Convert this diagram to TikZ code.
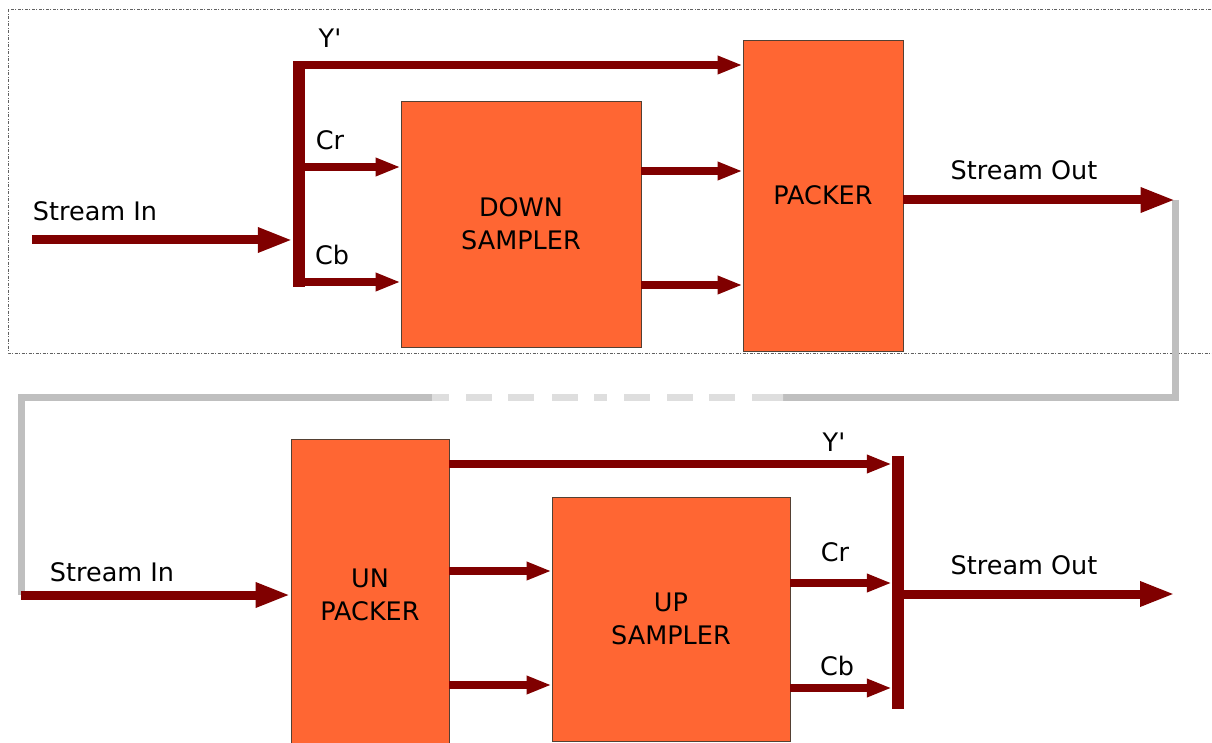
\documentclass[tikz,border=0pt]{standalone}
\usepackage{fontspec}
\setmainfont{DejaVu Sans}
\usetikzlibrary{arrows.meta}
\definecolor{mywire}{rgb}{0.5,0,0}
\definecolor{myblock}{rgb}{1,0.4,0.2}
\definecolor{myedge}{rgb}{0.33,0.25,0.2}
\definecolor{mylink}{rgb}{0.75,0.75,0.75}
\definecolor{mylinkdash}{rgb}{0.87,0.87,0.87}
\definecolor{myframe}{rgb}{0.38,0.38,0.38}

\begin{document}
\begin{tikzpicture}[x=1pt,y=-1pt,
  block/.style={draw=myedge,line width=0.9pt,fill=myblock,inner sep=0pt,align=center,font=\fontsize{25.5}{33}\selectfont},
  lbl/.style={inner sep=0pt,font=\fontsize{25.5}{30}\selectfont},
  bus/.style={fill=mywire,inner sep=0pt,minimum width=12pt},
  wire/.style={mywire,line width=8pt,-{Triangle[length=25pt,width=17pt]}},
  stream/.style={mywire,line width=9pt,-{Triangle[length=35pt,width=23pt]}}]
  \useasboundingbox (0,0) rectangle (1212,743);
  \draw[myframe,line width=1pt,dash pattern=on 3pt off 1.5pt on 1pt off 1.5pt] (8,9.5) rectangle (1218,353);
  % encoder
  \node[block,minimum width=240pt,minimum height=246pt] (down) at (521,224) {DOWN\\SAMPLER};
  \node[block,minimum width=160pt,minimum height=311pt] (packer) at (823,195.5) {PACKER};
  \node[bus,minimum height=226pt] (split) at (299,174) {};
  \coordinate (in1) at (32,240);
  \coordinate (yp1) at (0,65);
  \coordinate (cr1) at (0,167);
  \coordinate (cb1) at (0,282);
  \coordinate (d1) at (0,171);
  \coordinate (d2) at (0,285);
  \coordinate (so1) at (1175.5,200);
  \draw[stream] (in1) -- (split.west |- in1);
  \draw[wire] (split.east |- yp1) -- (packer.west |- yp1);
  \draw[wire] (split.east |- cr1) -- (down.west |- cr1);
  \draw[wire] (split.east |- cb1) -- (down.west |- cb1);
  \draw[wire] (down.east |- d1) -- (packer.west |- d1);
  \draw[wire] (down.east |- d2) -- (packer.west |- d2);
  \node[lbl] (inlbl1) at (95,211) {Stream In};
  \node[lbl] (ylbl1) at (330,38) {Y\textquotesingle};
  \node[lbl] (crlbl1) at (330,140) {Cr};
  \node[lbl] (cblbl1) at (332,255) {Cb};
  \node[lbl] (outlbl1) at (1024,170) {Stream Out};
  % link
  \coordinate (c1) at (1175.5,397);
  \coordinate (g1) at (783,397);
  \coordinate (g2) at (432,397);
  \coordinate (c2) at (21,397);
  \coordinate (in2) at (21,595);
  \draw[mylink,line width=7pt] (so1) -- (c1) -- (g1);
  \draw[mylinkdash,line width=7pt,dash pattern=on 17pt off 17pt on 26pt off 16pt on 26pt off 18pt on 26pt off 16pt on 13pt off 17pt on 26pt off 17pt on 26pt off 16pt on 26pt off 17pt on 31pt off 0pt] (g2) -- (g1);
  \draw[mylink,line width=7pt] (g2) -- (c2) -- (in2);
  \draw[stream] (packer.east |- so1) -- (so1);
  % decoder
  \node[block,minimum width=158pt,minimum height=312pt] (unpacker) at (370,595) {UN\\PACKER};
  \node[block,minimum width=238pt,minimum height=244pt] (up) at (671,619) {UP\\SAMPLER};
  \node[bus,minimum height=253pt] (merge) at (898,582.5) {};
  \coordinate (yp2) at (0,464);
  \coordinate (u1) at (0,571);
  \coordinate (u2) at (0,685);
  \coordinate (cr2) at (0,583);
  \coordinate (cb2) at (0,688);
  \coordinate (so2) at (1175,594);
  \draw[stream] (in2) -- (unpacker.west |- in2);
  \draw[wire] (unpacker.east |- yp2) -- (merge.west |- yp2);
  \draw[wire] (unpacker.east |- u1) -- (up.west |- u1);
  \draw[wire] (unpacker.east |- u2) -- (up.west |- u2);
  \draw[wire] (up.east |- cr2) -- (merge.west |- cr2);
  \draw[wire] (up.east |- cb2) -- (merge.west |- cb2);
  \draw[stream] (merge.east |- so2) -- (so2);
  \node[lbl] (inlbl2) at (112,572) {Stream In};
  \node[lbl] (ylbl2) at (834,442) {Y\textquotesingle};
  \node[lbl] (crlbl2) at (835,552) {Cr};
  \node[lbl] (cblbl2) at (837,666) {Cb};
  \node[lbl] (outlbl2) at (1024,565) {Stream Out};
\end{tikzpicture}
\end{document}
